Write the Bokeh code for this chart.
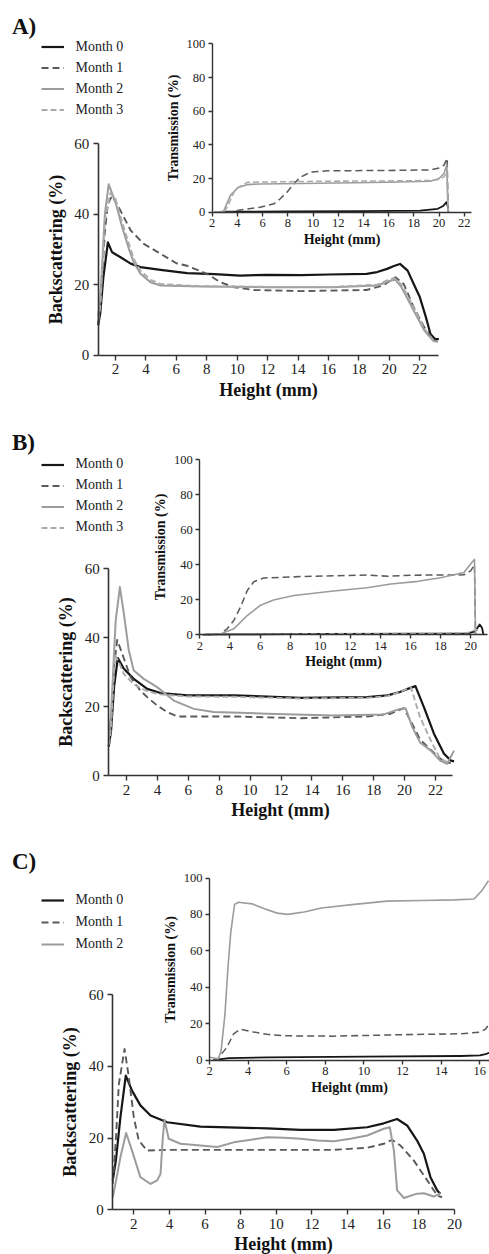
from bokeh.plotting import figure
from bokeh.models import Range1d, LinearAxis, FixedTicker, Legend, LegendItem, Label
from bokeh.embed import file_html
from bokeh.resources import INLINE

W, H = 489, 1254
MONTHS = ["Month 0", "Month 1", "Month 2", "Month 3"]

# ---------------- Panel A : backscattering ----------------
A_BS_M0_H = [0.86, 1.0, 1.2, 1.5, 1.78, 2.33, 3.0, 3.64, 4.96, 6.7, 8.5, 10.2, 12.0, 14.2, 16.0, 18.5, 19.2, 19.85, 20.3, 20.7, 21.2, 21.6, 22.0, 22.4, 22.7, 23.0, 23.25]
A_BS_M0_V = [8.5, 12, 22, 32, 29.2, 27.8, 26.0, 25.0, 24.2, 23.3, 23.0, 22.6, 22.8, 22.7, 22.9, 23.1, 23.6, 24.5, 25.3, 25.9, 24.0, 20.2, 16.5, 10.8, 6.0, 4.6, 4.6]
A_BS_M1_H = [0.86, 1.0, 1.3, 1.5, 1.78, 2.33, 3.0, 3.86, 4.96, 6.0, 6.7, 8.0, 8.9, 9.8, 11.1, 14.2, 18.5, 19.6, 20.4, 20.95, 21.6, 22.3, 22.9, 23.2]
A_BS_M1_V = [9, 13, 35, 43, 45.3, 41, 35.4, 31.6, 28.8, 26.1, 25.4, 23.1, 20.7, 19.3, 18.5, 18.2, 18.5, 19.8, 22.1, 20.2, 13.6, 7.9, 4.2, 4.0]
A_BS_M2_H = [0.86, 1.0, 1.3, 1.55, 2.0, 2.44, 2.88, 3.2, 3.64, 4.3, 4.96, 7.6, 12.0, 16.3, 19.2, 20.1, 20.4, 20.8, 21.6, 22.3, 22.9, 23.2]
A_BS_M2_V = [11, 16, 40, 48.5, 43.4, 36.3, 30.2, 26.4, 23.1, 20.7, 19.8, 19.5, 19.3, 19.3, 19.8, 21.2, 21.4, 19.3, 12.7, 7.0, 4.0, 3.8]
A_BS_M3_H = [0.86, 1.0, 1.3, 1.65, 2.0, 2.44, 2.88, 3.2, 3.64, 4.3, 4.96, 7.6, 12.0, 16.3, 19.2, 20.0, 20.3, 20.8, 21.6, 22.3, 22.9, 23.2]
A_BS_M3_V = [10, 14, 38, 46, 44.4, 37.7, 31.6, 27.3, 24.0, 21.4, 20.2, 19.6, 19.4, 19.4, 20.0, 21.5, 21.9, 20.0, 13.6, 7.5, 4.2, 4.0]
# ---------------- Panel A : transmission ----------------
A_T_M0_H = [2.2, 3.0, 8.0, 14.0, 18.5, 19.9, 20.3, 20.6, 20.7, 20.75]
A_T_M0_V = [0, 0.3, 0.5, 0.7, 1.0, 2.0, 3.5, 6.0, 3.0, 0]
A_T_M1_H = [2.2, 3.5, 4.0, 5.8, 6.9, 7.4, 7.95, 8.5, 9.0, 9.8, 11.1, 15.9, 19.3, 20.0, 20.4, 20.65, 20.72]
A_T_M1_V = [0, 0, 1, 3, 5, 8, 12, 17, 20.8, 23.8, 24.6, 24.8, 25.1, 26.3, 28, 32, 0]
A_T_M2_H = [2.2, 2.9, 3.45, 4.04, 4.8, 5.8, 10.6, 15.9, 19.3, 20.0, 20.4, 20.62, 20.72]
A_T_M2_V = [0, 0.5, 10, 14.5, 16.4, 16.8, 17.2, 17.8, 18.4, 20, 23, 28, 0]
A_T_M3_H = [2.2, 2.95, 3.2, 3.85, 4.8, 10.6, 15.9, 19.3, 20.0, 20.4, 20.62, 20.72]
A_T_M3_V = [0, 0.5, 3, 13.9, 17.8, 18.4, 18.6, 18.8, 19.5, 21, 24, 0]

# ---------------- Panel B : backscattering ----------------
B_BS_M0_H = [0.85, 1.0, 1.2, 1.44, 1.83, 2.47, 3.34, 4.2, 5.93, 8.95, 13.26, 17.58, 18.9, 19.7, 20.2, 20.7, 21.25, 21.9, 22.55, 23.0, 23.2]
B_BS_M0_V = [8.5, 13, 26, 34.1, 31, 28.1, 25.2, 24.0, 23.3, 23.3, 22.6, 22.8, 23.3, 24.3, 25.2, 26.0, 19.9, 12.2, 6.4, 4.4, 4.2]
B_BS_M1_H = [0.85, 1.0, 1.2, 1.4, 1.72, 2.26, 2.9, 3.34, 3.98, 4.63, 5.28, 8.95, 13.26, 17.58, 19.1, 19.95, 20.5, 21.0, 21.7, 22.3, 22.75, 23.0]
B_BS_M1_V = [9, 15, 32, 39.4, 35.4, 28.6, 24.7, 22.8, 20.4, 18.5, 17.2, 17.2, 16.7, 17.2, 18.0, 19.6, 15, 10.5, 7.5, 5, 3.8, 3.8]
B_BS_M2_H = [0.85, 1.0, 1.3, 1.57, 1.83, 2.15, 2.47, 3.12, 3.98, 5.06, 6.36, 7.65, 11.1, 15.4, 18.66, 19.7, 20.06, 20.5, 21.0, 21.7, 22.3, 22.75, 23.2]
B_BS_M2_V = [10, 18, 45, 54.7, 47, 36.3, 30.5, 28.1, 25.7, 21.8, 19.4, 18.5, 18.0, 17.5, 17.8, 19.4, 19.6, 14.1, 9.7, 7.3, 4.4, 3.5, 7.3]
B_BS_M3_H = [0.85, 1.0, 1.25, 1.5, 1.83, 2.47, 3.34, 4.2, 5.93, 8.95, 13.26, 17.58, 18.9, 19.7, 20.4, 21.0, 21.7, 22.3, 22.75, 23.0]
B_BS_M3_V = [9, 14, 35, 33, 29.5, 26.5, 24.5, 23.6, 23.0, 22.9, 22.4, 22.6, 23.1, 24.3, 25.7, 17, 10.2, 4.9, 4.0, 4.0]
# ---------------- Panel B : transmission ----------------
B_T_M0_H = [2.2, 3.3, 10, 18, 19.8, 20.3, 20.6, 20.75, 20.85]
B_T_M0_V = [0, 0.2, 0.5, 0.6, 0.8, 2, 5.9, 4, 0]
B_T_M1_H = [2.2, 3.37, 3.82, 4.26, 4.7, 5.15, 5.59, 6.25, 8.7, 10.9, 13.1, 14.5, 16, 18, 19.55, 20.0, 20.25, 20.32]
B_T_M1_V = [0, 0.6, 3.4, 8.2, 15.7, 25.2, 30.3, 32.4, 33.2, 33.7, 34.1, 33.4, 34, 34.1, 34.2, 36.5, 40, 0]
B_T_M2_H = [2.2, 3.37, 4.26, 5.15, 6.0, 6.9, 8.25, 10.9, 13.1, 14.7, 16.5, 18.0, 19.55, 20.1, 20.25, 20.32]
B_T_M2_V = [0, 0.5, 3.4, 11, 16.7, 19.9, 22.4, 25, 26.8, 29, 30.5, 32.5, 35.5, 41.5, 43, 0]
B_T_M3_H = [2.2, 10, 18, 19.8, 20.2, 20.4, 20.5]
B_T_M3_V = [0, 0.5, 0.8, 1.2, 2.5, 3, 0]

# ---------------- Panel C : backscattering ----------------
C_BS_M0_H = [0.82, 1.0, 1.25, 1.55, 1.9, 2.37, 2.94, 3.87, 5.74, 9.49, 11.36, 13.23, 15.1, 16.03, 16.78, 17.34, 17.9, 18.28, 18.65, 19.03, 19.2]
C_BS_M0_V = [8.2, 14, 25.8, 37.4, 33.2, 29.1, 26.3, 24.4, 23.2, 22.7, 22.3, 22.3, 23.0, 24.1, 25.3, 23.5, 19.3, 15.6, 9.1, 5.4, 4.5]
C_BS_M1_H = [0.82, 1.0, 1.16, 1.48, 1.72, 2.0, 2.28, 2.75, 3.87, 9.49, 13.23, 15.1, 16.03, 16.5, 16.97, 17.72, 18.47, 19.03, 19.3]
C_BS_M1_V = [7.2, 20, 35, 44.8, 37, 25.8, 19.3, 16.5, 16.7, 16.7, 16.7, 17.3, 18.4, 19.5, 17.9, 13.7, 8.2, 4.0, 3.5]
C_BS_M2_H = [0.82, 1.0, 1.25, 1.57, 1.9, 2.37, 2.94, 3.31, 3.5, 3.63, 3.72, 3.96, 4.62, 5.74, 6.68, 7.61, 9.49, 10.42, 11.36, 12.3, 13.23, 14.16, 15.1, 16.03, 16.37, 16.6, 16.78, 17.16, 17.9, 18.28, 18.84, 19.2]
C_BS_M2_V = [3.5, 8, 14.7, 21.4, 16.5, 9.1, 7.2, 8.2, 10, 20.2, 25.1, 19.8, 18.4, 17.9, 17.5, 18.8, 20.2, 20.1, 19.8, 19.3, 19.1, 19.8, 20.7, 22.6, 23.0, 16.5, 5.4, 3.3, 4.5, 4.6, 3.7, 4.6]
# ---------------- Panel C : transmission ----------------
C_T_M0_H = [2.2, 2.5, 3.0, 5, 10, 15, 16.0, 16.3, 16.5]
C_T_M0_V = [0, 0.3, 1.0, 1.5, 1.8, 2.2, 2.5, 3.2, 4]
C_T_M1_H = [2.2, 2.4, 2.9, 3.25, 3.6, 4.28, 4.97, 5.84, 8.43, 11.9, 15.0, 16.0, 16.3, 16.5]
C_T_M1_V = [0, 0.3, 7, 14.4, 16.9, 15.4, 14.1, 13.3, 13.1, 13.9, 14.4, 15.3, 17, 20]
C_T_M2_H = [2.0, 2.3, 2.45, 2.6, 2.8, 2.95, 3.1, 3.3, 3.5, 4.2, 4.85, 5.5, 6.05, 6.9, 7.8, 9.5, 11.2, 13.0, 14.7, 15.7, 16.1, 16.45]
C_T_M2_V = [1.5, 1.0, 0.5, 5, 25, 50, 70, 85.5, 86.7, 85.8, 83.1, 80.7, 80.0, 81.3, 83.5, 85.5, 87.3, 87.6, 88, 88.5, 93, 98.5]

A_MAIN_TICKS = [2, 4, 6, 8, 10, 12, 14, 16, 18, 20, 22]
A_INS_TICKS = [2, 4, 6, 8, 10, 12, 14, 16, 18, 20, 22]
B_MAIN_TICKS = [2, 4, 6, 8, 10, 12, 14, 16, 18, 20, 22]
B_INS_TICKS = [2, 4, 6, 8, 10, 12, 14, 16, 18, 20]
C_MAIN_TICKS = [2, 4, 6, 8, 10, 12, 14, 16, 18, 20]
C_INS_TICKS = [2, 4, 6, 8, 10, 12, 14, 16]
BS_TICKS = [0, 20, 40, 60]
T_TICKS = [0, 20, 40, 60, 80, 100]

STY = {
    "Month 0": dict(line_color="#161616", line_width=2.2),
    "Month 1": dict(line_color="#5a5a5a", line_width=1.9, line_dash="7 4"),
    "Month 2": dict(line_color="#9c9c9c", line_width=2.0),
    "Month 3": dict(line_color="#ababab", line_width=1.9, line_dash="6 3"),
}

FONT = "Liberation Serif"


def xrange_for(d0, p0, d1, p1):
    k = (p1 - p0) / (d1 - d0)
    s = d0 - p0 / k
    return Range1d(s, s + W / k)


def yrange_for(d0, p0, d1, p1):
    u0, u1 = H - p0, H - p1
    k = (u1 - u0) / (d1 - d0)
    s = d0 - u0 / k
    return Range1d(s, s + H / k)


def style_axis(ax, main):
    ax.axis_line_color = "#333333"
    ax.axis_line_width = 1.6 if main else 1.4
    ax.major_tick_line_color = "#333333"
    ax.major_tick_line_width = 1.4
    ax.major_tick_in = 0
    ax.major_tick_out = 5 if main else 4
    ax.minor_tick_in = 0
    ax.minor_tick_out = 0
    ax.major_label_text_font = FONT
    ax.major_label_text_font_size = "15px" if main else "12.5px"
    ax.major_label_text_color = "#222222"
    ax.major_label_standoff = 4 if main else 3
    ax.axis_label_text_font = FONT
    ax.axis_label_text_font_style = "bold"
    ax.axis_label_text_font_size = "18px" if main else "14px"
    ax.axis_label_text_color = "#111111"


p = figure(width=W, height=H, x_range=Range1d(0, W), y_range=Range1d(H, 0),
           output_backend="svg", toolbar_location=None,
           x_axis_location=None, y_axis_location=None,
           min_border=0, outline_line_color=None)
p.min_border_left = 0
p.min_border_right = 0
p.min_border_top = 0
p.min_border_bottom = 0
p.xgrid.visible = False
p.ygrid.visible = False
p.background_fill_color = "white"
p.border_fill_color = "white"

PANELS = [
    dict(key="A", tag="A)", tag_y=25.5,
         main=[(A_BS_M0_H, A_BS_M0_V), (A_BS_M1_H, A_BS_M1_V), (A_BS_M2_H, A_BS_M2_V), (A_BS_M3_H, A_BS_M3_V)],
         ins=[(A_T_M0_H, A_T_M0_V), (A_T_M1_H, A_T_M1_V), (A_T_M2_H, A_T_M2_V), (A_T_M3_H, A_T_M3_V)],
         mx=(2, 115.0, 22, 419.3), my=(0, 354.7, 60, 143.3), mxb=(0.86, 23.2), mticks=A_MAIN_TICKS,
         ix=(2, 211.7, 18, 413.3), iy=(0, 211.7, 100, 43.4), ixb=(2, 22.55), iticks=A_INS_TICKS,
         leg_top=36.0, row=21),
    dict(key="B", tag="B)", tag_y=441.7,
         main=[(B_BS_M0_H, B_BS_M0_V), (B_BS_M1_H, B_BS_M1_V), (B_BS_M2_H, B_BS_M2_V), (B_BS_M3_H, B_BS_M3_V)],
         ins=[(B_T_M0_H, B_T_M0_V), (B_T_M1_H, B_T_M1_V), (B_T_M2_H, B_T_M2_V), (B_T_M3_H, B_T_M3_V)],
         mx=(2, 126.0, 22, 435.0), my=(0, 775.3, 60, 568.3), mxb=(0.85, 23.1), mticks=B_MAIN_TICKS,
         ix=(2, 199.3, 16, 410.0), iy=(0, 634.3, 100, 459.0), ixb=(2, 21.1), iticks=B_INS_TICKS,
         leg_top=453.5, row=21),
    dict(key="C", tag="C)", tag_y=861.0,
         main=[(C_BS_M0_H, C_BS_M0_V), (C_BS_M1_H, C_BS_M1_V), (C_BS_M2_H, C_BS_M2_V)],
         ins=[(C_T_M0_H, C_T_M0_V), (C_T_M1_H, C_T_M1_V), (C_T_M2_H, C_T_M2_V)],
         mx=(2, 133.3, 20, 454.0), my=(0, 1209.3, 60, 994.0), mxb=(0.82, 20.0), mticks=C_MAIN_TICKS,
         ix=(2, 209.0, 14, 440.7), iy=(0, 1059.5, 100, 877.5), ixb=(2, 16.6), iticks=C_INS_TICKS,
         leg_top=889.0, row=22),
]

for pn in PANELS:
    k = pn["key"]
    p.extra_x_ranges[k + "mx"] = xrange_for(*pn["mx"])
    p.extra_y_ranges[k + "my"] = yrange_for(*pn["my"])
    p.extra_x_ranges[k + "ix"] = xrange_for(*pn["ix"])
    p.extra_y_ranges[k + "iy"] = yrange_for(*pn["iy"])

    # main axes
    xa = LinearAxis(x_range_name=k + "mx", y_range_name=k + "my", fixed_location=0,
                    bounds=pn["mxb"], ticker=FixedTicker(ticks=pn["mticks"], minor_ticks=[]),
                    axis_label="Height (mm)")
    style_axis(xa, True)
    xa.axis_label_standoff = 2
    p.add_layout(xa, "below")
    ya = LinearAxis(x_range_name=k + "mx", y_range_name=k + "my", fixed_location=pn["mxb"][0],
                    bounds=(0, 60), ticker=FixedTicker(ticks=BS_TICKS, minor_ticks=[]),
                    axis_label="Backscattering (%)")
    style_axis(ya, True)
    ya.axis_label_standoff = 6
    p.add_layout(ya, "left")

    # inset axes
    ixa = LinearAxis(x_range_name=k + "ix", y_range_name=k + "iy", fixed_location=0,
                     bounds=pn["ixb"], ticker=FixedTicker(ticks=pn["iticks"], minor_ticks=[]),
                     axis_label="Height (mm)")
    style_axis(ixa, False)
    ixa.axis_label_standoff = 1
    p.add_layout(ixa, "below")
    iya = LinearAxis(x_range_name=k + "ix", y_range_name=k + "iy", fixed_location=2,
                     bounds=(0, 100), ticker=FixedTicker(ticks=T_TICKS, minor_ticks=[]),
                     axis_label="Transmission (%)")
    style_axis(iya, False)
    iya.axis_label_standoff = 3
    p.add_layout(iya, "left")

    items = []
    for i, (hx, vy) in enumerate(pn["main"]):
        name = MONTHS[i]
        r = p.line(hx, vy, x_range_name=k + "mx", y_range_name=k + "my",
                   line_join="round", **STY[name])
        items.append(LegendItem(label=name, renderers=[r]))
    for i, (hx, vy) in enumerate(pn["ins"]):
        name = MONTHS[i]
        st = dict(STY[name])
        st["line_width"] = st["line_width"] * 0.8
        p.line(hx, vy, x_range_name=k + "ix", y_range_name=k + "iy",
               line_join="round", **st)

    n = len(items)
    leg_h = n * pn["row"]
    leg = Legend(items=items, location=(40.5, H - (pn["leg_top"] + leg_h)),
                 label_text_font=FONT, label_text_font_size="14px", label_text_color="#222222",
                 glyph_width=23, glyph_height=pn["row"], label_height=pn["row"],
                 label_standoff=12, spacing=0, padding=0, margin=0,
                 border_line_color=None, background_fill_alpha=0)
    p.add_layout(leg)

    p.add_layout(Label(x=11.5, y=pn["tag_y"], text=pn["tag"], text_font=FONT,
                       text_font_style="bold", text_font_size="23px", text_color="#111111",
                       text_baseline="middle", text_align="left"))

open("out.html", "w").write(file_html(p, INLINE))
